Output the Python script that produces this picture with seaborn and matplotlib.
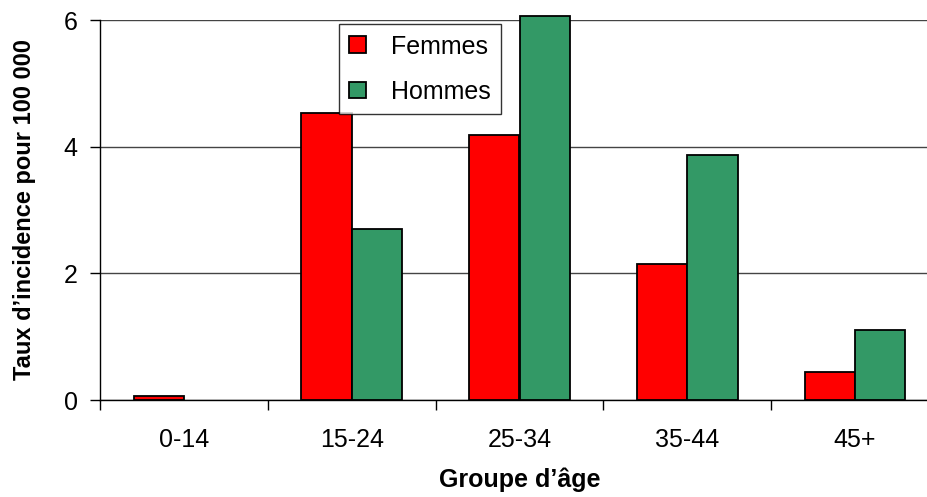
import matplotlib
matplotlib.use("Agg")
import matplotlib.pyplot as plt
import seaborn as sns
import pandas as pd
from matplotlib.patches import Patch

categories = ["0-14", "15-24", "25-34", "35-44", "45+"]
femmes = [0.07, 4.53, 4.18, 2.15, 0.45]
hommes = [0.0, 2.70, 6.06, 3.87, 1.10]
series = ["Femmes", "Hommes"]
colors = {"Femmes": "#FF0000", "Hommes": "#339966"}
yticks = [0, 2, 4, 6]

df = pd.DataFrame({
    "Groupe": categories * 2,
    "Sexe": ["Femmes"] * len(categories) + ["Hommes"] * len(categories),
    "Taux": femmes + hommes,
})

sns.set_theme(style="white")
plt.rcParams["font.family"] = ["Liberation Sans", "DejaVu Sans"]
plt.rcParams.update({"text.color": "black", "axes.labelcolor": "black",
                     "xtick.color": "black", "ytick.color": "black"})

W, H = 928, 497
fig = plt.figure(figsize=(W / 100, H / 100), dpi=100)
left, right, top, bottom = 100, 939, 20, 400
ax = fig.add_axes([left / W, (H - bottom) / H, (right - left) / W, (bottom - top) / H])

sns.barplot(data=df, x="Groupe", y="Taux", hue="Sexe", order=categories,
            hue_order=series, palette=colors, width=0.6, gap=0,
            edgecolor="black", linewidth=1.3, saturation=1, ax=ax, legend=False)
for p in ax.patches:
    p.set_clip_on(False)
    if p.get_height() == 0:
        p.set_visible(False)

ax.set_xlim(-0.5, len(categories) - 0.5)
ax.set_ylim(0, 6)
ax.set_yticks(yticks)
ax.set_yticklabels([str(v) for v in yticks], fontsize=18)
ax.yaxis.grid(True, color="#444444", linewidth=1)
ax.set_axisbelow(True)

# category boundary ticks (major), labels at centres (minor)
ax.set_xticks([i - 0.5 for i in range(len(categories) + 1)])
ax.set_xticklabels([])
ax.set_xticks(range(len(categories)), minor=True)
ax.set_xticklabels(categories, minor=True, fontsize=18)
ax.tick_params(axis="x", which="major", length=7, width=1, color="black", direction="out", bottom=True)
ax.tick_params(axis="x", which="minor", length=0, pad=20)
ax.tick_params(axis="y", length=7, width=1, color="black", direction="out", left=True, pad=9)

for s in ["top", "right"]:
    ax.spines[s].set_visible(False)
for s in ["left", "bottom"]:
    ax.spines[s].set_color("black")
    ax.spines[s].set_linewidth(1)

ax.set_xlabel("Groupe d\u2019âge", fontsize=18, fontweight="bold", labelpad=11)
ax.set_ylabel("Taux d\u2019incidence pour 100 000", fontsize=17, fontweight="bold", labelpad=20)

handles = [Patch(facecolor=colors[s], edgecolor="black", linewidth=1.3) for s in series]
leg = ax.legend(handles, series, loc="upper left",
                bbox_to_anchor=((339 - left) / (right - left), 1 - (24 - top) / (bottom - top)),
                fontsize=18, frameon=True, fancybox=False, edgecolor="black",
                handlelength=0.65, handleheight=0.65, handletextpad=1.0, labelspacing=0.85,
                borderpad=0.42, borderaxespad=0)
leg.get_frame().set_linewidth(1)

fig.savefig("out.png", dpi=100)
